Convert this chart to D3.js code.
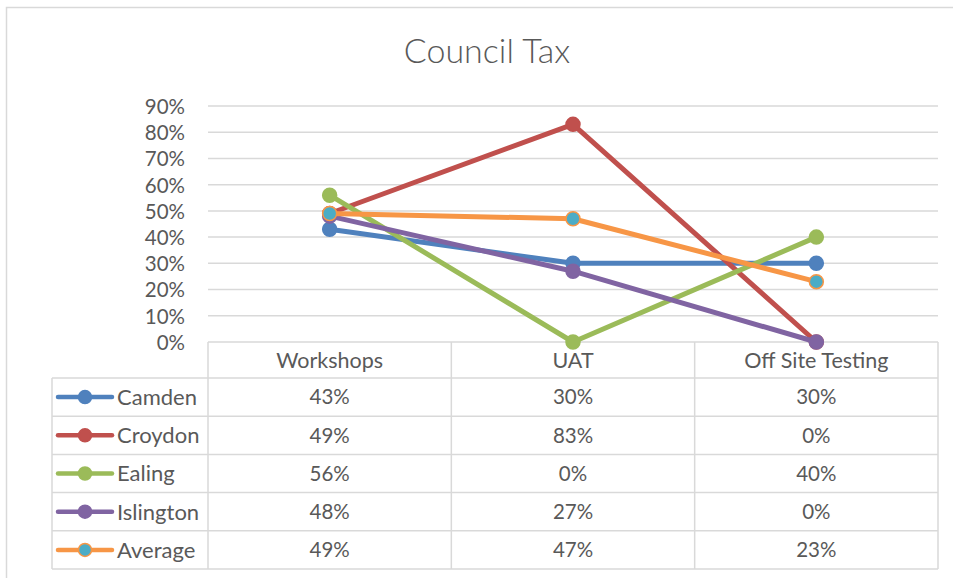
<!DOCTYPE html>
<html>
<head>
<meta charset="utf-8">
<script src="https://cdn.jsdelivr.net/npm/d3@7/dist/d3.min.js"></script>
<style>
  html, body { margin: 0; padding: 0; background: #fff; }
  svg { display: block; }
  text { font-family: Lato, "Open Sans", sans-serif; fill: #595959; }
</style>
</head>
<body>
<svg id="chart" width="953" height="578"></svg>
<script>
// Chart data
const title = "Council Tax";
const categories = ["Workshops", "UAT", "Off Site Testing"];
const seriesNames = ["Camden", "Croydon", "Ealing", "Islington", "Average"];
const camden    = [0.43, 0.30, 0.30];
const croydon   = [0.49, 0.83, 0.00];
const ealing    = [0.56, 0.00, 0.40];
const islington = [0.48, 0.27, 0.00];
const average   = [0.49, 0.47, 0.23];
const yTicks = [0, 0.1, 0.2, 0.3, 0.4, 0.5, 0.6, 0.7, 0.8, 0.9];

const seriesValues = [camden, croydon, ealing, islington, average];
const lineColors   = ["#4F81BD", "#C0504D", "#9BBB59", "#8064A2", "#F79646"];
const markerFills  = ["#4F81BD", "#C0504D", "#9BBB59", "#8064A2", "#4BACC6"];

const series = seriesNames.map((name, i) => ({
  name, values: seriesValues[i], line: lineColors[i], fill: markerFills[i]
}));

const svg = d3.select("#chart");
const gridColor = "#d9d9d9";

// outer chart frame
svg.append("rect")
  .attr("x", 6.5).attr("y", 7.5).attr("width", 1000).attr("height", 1000)
  .attr("fill", "none").attr("stroke", gridColor).attr("stroke-width", 1.5);

// title
svg.append("text")
  .attr("x", 487).attr("y", 63)
  .attr("text-anchor", "middle")
  .style("font-size", "34px")
  .style("font-weight", 300)
  .text(title);

const plotLeft = 208, plotRight = 938, plotTop = 106, plotBottom = 342;

const x = d3.scaleBand().domain(categories).range([plotLeft, plotRight]);
const y = d3.scaleLinear().domain([0, 0.9]).range([plotBottom, plotTop]);

// horizontal gridlines
svg.append("g").selectAll("line").data(yTicks.filter(d => d > 0)).join("line")
  .attr("x1", plotLeft).attr("x2", plotRight)
  .attr("y1", d => y(d)).attr("y2", d => y(d))
  .attr("stroke", gridColor).attr("stroke-width", 1.5);

// y axis tick labels
const yAxis = d3.axisLeft(y).tickValues(yTicks).tickFormat(d3.format(".0%")).tickSize(0).tickPadding(0);
const yg = svg.append("g").attr("transform", `translate(${plotLeft - 23},0)`).call(yAxis);
yg.select(".domain").remove();
yg.selectAll("text")
  .attr("dy", "0.36em")
  .style("font-size", "20.5px")
  .style("font-family", "Lato, 'Open Sans', sans-serif")
  .attr("fill", "#595959");

// data table
const tableLeft = 52;
const rowH = 38.2;
const headerTop = plotBottom, headerBottom = 378;
const rowsTop = headerBottom;
const tableBottom = rowsTop + rowH * series.length;
const tg = svg.append("g");

// header row cells
tg.append("line").attr("x1", plotLeft).attr("x2", plotRight)
  .attr("y1", headerTop).attr("y2", headerTop)
  .attr("stroke", gridColor).attr("stroke-width", 1.5);
const cols = categories.map(c => x(c)).concat([plotRight]);
tg.selectAll("line.vcol").data(cols).join("line")
  .attr("class", "vcol")
  .attr("x1", d => d).attr("x2", d => d)
  .attr("y1", headerTop).attr("y2", tableBottom)
  .attr("stroke", gridColor).attr("stroke-width", 1.5);
tg.append("line").attr("x1", tableLeft).attr("x2", tableLeft)
  .attr("y1", rowsTop).attr("y2", tableBottom)
  .attr("stroke", gridColor).attr("stroke-width", 1.5);
const rowLines = d3.range(series.length + 1).map(i => rowsTop + i * rowH);
tg.selectAll("line.hrow").data(rowLines).join("line")
  .attr("class", "hrow")
  .attr("x1", tableLeft).attr("x2", plotRight)
  .attr("y1", d => d).attr("y2", d => d)
  .attr("stroke", gridColor).attr("stroke-width", 1.5);

tg.selectAll("text.cat").data(categories).join("text")
  .attr("class", "cat")
  .attr("x", d => x(d) + x.bandwidth() / 2)
  .attr("y", (headerTop + headerBottom) / 2)
  .attr("dy", "0.36em")
  .attr("text-anchor", "middle")
  .style("font-size", "21.5px")
  .text(d => d);

const fmt = d3.format(".0%");
series.forEach((s, i) => {
  const cy = rowsTop + i * rowH + rowH / 2;
  // legend key
  tg.append("line").attr("x1", 58).attr("x2", 112).attr("y1", cy).attr("y2", cy)
    .attr("stroke", s.line).attr("stroke-width", 4.5).attr("stroke-linecap", "round");
  tg.append("circle").attr("cx", 85).attr("cy", cy).attr("r", 6.5)
    .attr("fill", s.fill).attr("stroke", s.line).attr("stroke-width", 1.5);
  tg.append("text").attr("x", 117).attr("y", cy).attr("dy", "0.36em")
    .style("font-size", "22px").text(s.name);
  // values
  tg.selectAll(null).data(s.values).join("text")
    .attr("x", (d, j) => x(categories[j]) + x.bandwidth() / 2)
    .attr("y", cy).attr("dy", "0.36em")
    .attr("text-anchor", "middle")
    .style("font-size", "20.5px")
    .text(d => fmt(d));
});

// series lines and markers
const line = d3.line()
  .x((d, j) => x(categories[j]) + x.bandwidth() / 2)
  .y(d => y(d));
const lg = svg.append("g");
series.forEach(s => {
  lg.append("path").datum(s.values)
    .attr("d", line)
    .attr("fill", "none")
    .attr("stroke", s.line)
    .attr("stroke-width", 5)
    .attr("stroke-linejoin", "round")
    .attr("stroke-linecap", "round");
  lg.selectAll(null).data(s.values).join("circle")
    .attr("cx", (d, j) => x(categories[j]) + x.bandwidth() / 2)
    .attr("cy", d => y(d))
    .attr("r", 7)
    .attr("fill", s.fill)
    .attr("stroke", s.line)
    .attr("stroke-width", 1.5);
});
</script>
</body>
</html>
